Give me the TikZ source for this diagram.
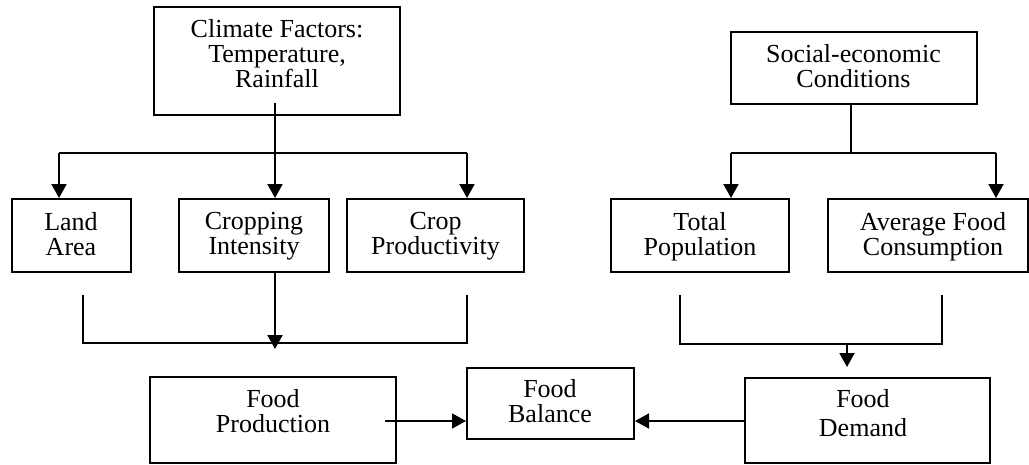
\documentclass[tikz,border=0pt]{standalone}
\usepackage{fontspec}
\setmainfont{Liberation Serif}
\usetikzlibrary{arrows.meta}
\begin{document}
\begin{tikzpicture}[x=1pt,y=-1pt,
  box/.style={draw, line width=2pt, inner sep=0pt},
  thinbox/.style={draw, line width=1.5pt, inner sep=0pt},
  txt/.style={align=center, inner sep=0pt, anchor=north, font=\fontsize{26}{25}\selectfont},
  conn/.style={line width=2pt},
  arr/.style={line width=2pt, -{Triangle[length=14pt,width=15pt]}},
  harr/.style={line width=1.5pt, -{Triangle[length=14pt,width=15pt]}}]
\useasboundingbox (0,0) rectangle (1029,464);
% boxes
\node[box, minimum width=246pt, minimum height=108pt] (clim) at (277,61) {};
\node[box, minimum width=246pt, minimum height=72pt] (soc) at (854,68) {};
\node[box, minimum width=119pt, minimum height=73pt] (land) at (71.5,235.5) {};
\node[box, minimum width=150pt, minimum height=73pt] (crin) at (254,235.5) {};
\node[box, minimum width=177pt, minimum height=73pt] (crpr) at (435.5,235.5) {};
\node[box, minimum width=178pt, minimum height=73pt] (tpop) at (700,235.5) {};
\node[box, minimum width=200pt, minimum height=73pt] (afc) at (927.5,235.5) {};
\node[thinbox, minimum width=246pt, minimum height=86pt] (fp) at (273,420) {};
\node[box, minimum width=167pt, minimum height=71pt] (fb) at (550.5,403.5) {};
\node[thinbox, minimum width=245pt, minimum height=85pt] (fd) at (867.5,420.5) {};
% texts
\node[txt] (climt) at (277,19.3) {Climate Factors:\\Temperature,\\Rainfall};
\node[txt] (soct) at (853.5,44.3) {Social-economic\\Conditions};
\node[txt] (landt) at (71,212.3) {Land\\Area};
\node[txt] (crint) at (254,212.3) {Cropping\\Intensity};
\node[txt] (crprt) at (435.5,212.3) {Crop\\Productivity};
\node[txt] (tpopt) at (700,212.3) {Total\\Population};
\node[txt] (afct) at (933,212.3) {Average Food\\Consumption};
\node[txt] (fpt) at (273,389.3) {Food\\Production};
\node[txt] (fbt) at (550,379.3) {Food\\Balance};
\node[txt] (fdt) at (863,389.3) {Food\\[4pt]Demand};
% climate connectors
\coordinate (cs) at (275,103);
\coordinate (jl) at (59,153);
\coordinate (jr) at (467,153);
\draw[conn] (jl) -- (jr);
\draw[arr] (cs) -- (cs |- crin.north);
\draw[arr] (jl) -- (jl |- land.north);
\draw[arr] (jr) -- (jr |- crpr.north);
% social connectors
\coordinate (sj) at (851,153);
\coordinate (sl) at (731,153);
\coordinate (sr) at (996,153);
\draw[conn] (soc.south -| sj) -- (sj);
\draw[conn] (sl) -- (sr);
\draw[arr] (sl) -- (sl |- tpop.north);
\draw[arr] (sr) -- (sr |- afc.north);
% left bracket
\coordinate (bl1) at (83,295);
\coordinate (bl2) at (467,295);
\draw[conn] (bl1) -- ++(0,48) -| (bl2);
\coordinate (pa) at (275,349);
\draw[arr] (crin.south -| cs) -- (pa);
% right bracket
\coordinate (br1) at (680,295);
\coordinate (br2) at (942,295);
\draw[conn] (br1) -- ++(0,49) -| (br2);
\coordinate (da1) at (847,344);
\coordinate (da2) at (847,367);
\draw[arr] (da1) -- (da2);
% horizontal arrows
\coordinate (fpo) at (385,421);
\draw[harr] (fpo) -- (fpo -| fb.west);
\draw[harr] (fpo -| fd.west) -- (fpo -| fb.east);
\end{tikzpicture}
\end{document}
